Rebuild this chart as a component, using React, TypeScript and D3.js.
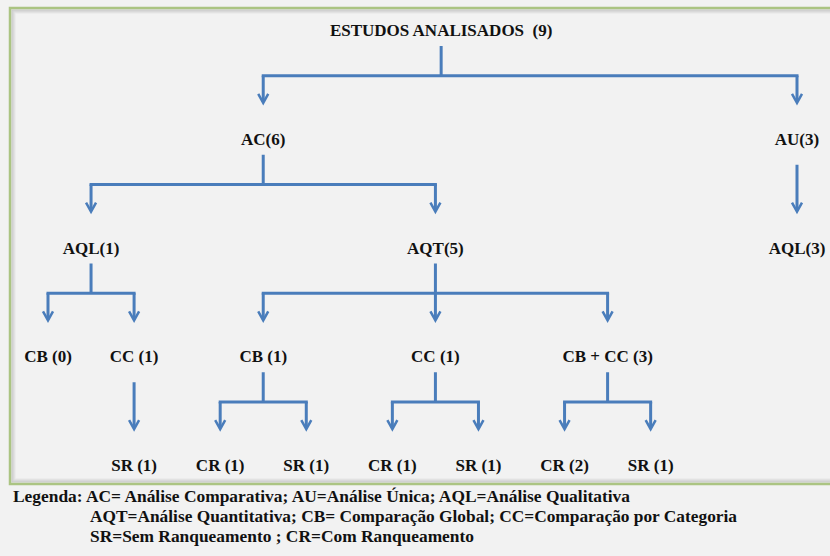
import React, { useEffect } from 'react';
import * as d3 from 'd3';

// estrutura da árvore: id, pai, rótulo e quantidade de estudos
const nodeIds = ['root', 'ac', 'au', 'aql1', 'aqt', 'aql3', 'cb0', 'cc1', 'cb1', 'cc', 'cbcc', 'sr1', 'cr1', 'sr2', 'cr3', 'sr3', 'cr4', 'sr4'];
const nodeParents = [null, 'root', 'root', 'ac', 'ac', 'au', 'aql1', 'aql1', 'aqt', 'aqt', 'aqt', 'cc1', 'cb1', 'cb1', 'cc', 'cc', 'cbcc', 'cbcc'];
const nodeLabels = ['ESTUDOS ANALISADOS', 'AC', 'AU', 'AQL', 'AQT', 'AQL', 'CB', 'CC', 'CB', 'CC', 'CB + CC', 'SR', 'CR', 'SR', 'CR', 'SR', 'CR', 'SR'];
const nodeCounts = [9, 6, 3, 1, 5, 3, 0, 1, 1, 1, 3, 1, 1, 1, 1, 1, 2, 1];

const legendLines = [
  'Legenda: AC= Análise Comparativa; AU=Análise Única; AQL=Análise Qualitativa',
  'AQT=Análise Quantitativa; CB= Comparação Global; CC=Comparação por Categoria',
  'SR=Sem Ranqueamento ; CR=Com Ranqueamento',
];

interface Nodo {
  id: string;
  parent: string | null;
  label: string;
  count: number;
}

type No = d3.HierarchyPointNode<Nodo>;

const WIDTH = 830;
const HEIGHT = 556;
const AZUL = '#4a7dbb';
const FONTE = 'Liberation Serif';

const formataRotulo = (d: No) => {
  if (d.depth === 0) return `${d.data.label}\u00a0 (${d.data.count})`;
  if (d.depth < 3) return `${d.data.label}(${d.data.count})`;
  return `${d.data.label} (${d.data.count})`;
};

const datos: Nodo[] = nodeIds.map((id, i) => ({
  id,
  parent: nodeParents[i],
  label: nodeLabels[i],
  count: nodeCounts[i],
}));

const raiz = d3.stratify<Nodo>().id((d) => d.id).parentId((d) => d.parent)(datos);
const ramo = (n: d3.HierarchyNode<Nodo>) => n.ancestors().find((a) => a.depth === 1) ?? n;
const arvore = d3.tree<Nodo>()
  .nodeSize([1, 1])
  .separation((a, b) => (ramo(a) === ramo(b) ? 1 : 4.2))(raiz);
const nos = arvore.descendants();

const x = d3.scaleLinear()
  .domain(d3.extent(nos, (d) => d.x) as [number, number])
  .range([48, 797]);
const y = d3.scaleLinear().domain([0, arvore.height]).range([30, 465]);

// raiz no centro ponderado pelo número de estudos
const filhosRaiz = arvore.children ?? [];
const xRaiz = d3.sum(filhosRaiz, (c) => x(c.x) * c.data.count) / d3.sum(filhosRaiz, (c) => c.data.count);
const px = (d: No) => (d.depth === 0 ? xRaiz : x(d.x));

const Seta: React.FC<{ cx: number; y0: number; tip: number }> = ({ cx, y0, tip }) => (
  <g>
    <line x1={cx} x2={cx} y1={y0} y2={tip - 1} />
    <path d={`M${cx - 5},${tip - 9}L${cx},${tip}L${cx + 5},${tip - 9}`} strokeWidth={2.5} />
  </g>
);

const Conector: React.FC<{ p: No }> = ({ p }) => {
  const filhos = p.children as No[];
  const yp = y(p.depth);
  const yc = y(p.depth + 1);
  const gap = yc - yp;
  const tip = yc - 0.33 * gap;
  const xp = px(p);
  if (filhos.length === 1) return <Seta cx={x(filhos[0].x)} y0={yp + 26} tip={tip} />;
  const yb = yp + 0.42 * gap;
  const xs = filhos.map((c) => x(c.x));
  return (
    <g>
      <line x1={xp} x2={xp} y1={yp + 16} y2={yb} />
      <line x1={(d3.min(xs) as number) - 1.5} x2={(d3.max(xs) as number) + 1.5} y1={yb} y2={yb} />
      {xs.map((cx, i) => <Seta key={i} cx={cx} y0={yb} tip={tip} />)}
    </g>
  );
};

const larguras = [617, 647, 384];
const bx = 10, by = 8, bw = 900, bh = 476;

const App: React.FC = () => {
  useEffect(() => {
    document.body.style.margin = '0';
  }, []);

  return (
    <svg width={WIDTH} height={HEIGHT} style={{ display: 'block' }}>
      <rect width={WIDTH} height={HEIGHT} fill="#f2f2f2" />
      {/* moldura com sombra interna */}
      {[5, 4, 3, 2].map((inset, i) => (
        <rect key={inset} x={bx + inset} y={by + inset} width={bw - 2 * inset} height={bh - 2 * inset}
          fill="none" stroke="#9a9a9a" strokeOpacity={0.12 + i * 0.12} strokeWidth={1} />
      ))}
      <rect x={bx} y={by} width={bw} height={bh} fill="none" stroke="#abc482" strokeWidth={2.5} />

      <g fill="none" stroke={AZUL} strokeWidth={3}>
        {nos.filter((d) => d.children).map((p) => <Conector key={p.id} p={p} />)}
      </g>

      <g fontFamily={FONTE} fontWeight="bold" fill="#111" textAnchor="middle">
        {nos.map((d) => (
          <text key={d.id} x={px(d)} y={y(d.depth)} dy="0.36em" fontSize={17}>
            {formataRotulo(d)}
          </text>
        ))}
      </g>

      <g fontFamily={FONTE} fontWeight="bold" fill="#111" fontSize={16.5}>
        {legendLines.map((linha, i) => (
          <text key={i} x={i === 0 ? 13 : 90} y={502 + i * 20} textLength={larguras[i]} lengthAdjust="spacingAndGlyphs">
            {linha}
          </text>
        ))}
      </g>
    </svg>
  );
};

export default App;
